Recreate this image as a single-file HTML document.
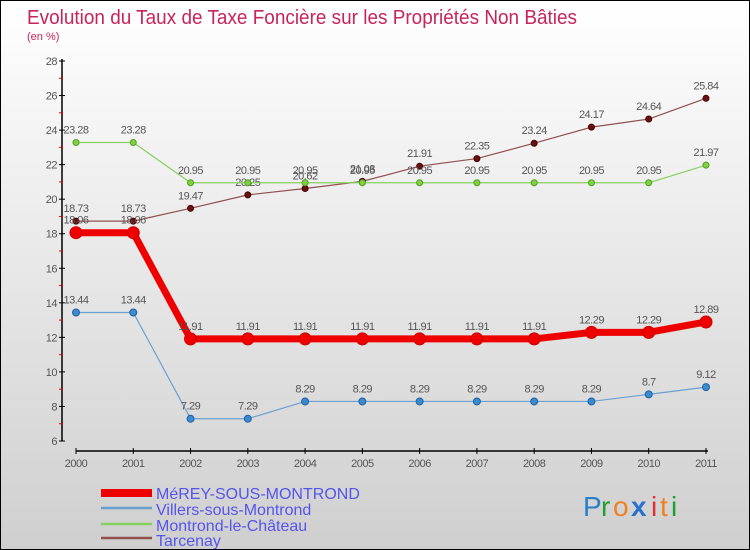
<!DOCTYPE html>
<html><head><meta charset="utf-8"><style>
body{margin:0}
#c{width:750px;height:550px;position:relative;box-sizing:border-box;border:1px solid #000;background:linear-gradient(#fff,#cfcfcf);overflow:hidden;font-family:"Liberation Sans",sans-serif}
</style></head><body>
<div id="c">
<svg width="748" height="548" id="s">
<text x="26" y="23" font-size="20" fill="#c8245c" textLength="550" lengthAdjust="spacingAndGlyphs">Evolution du Taux de Taxe Foncière sur les Propriétés Non Bâties</text>
<text x="26" y="39" font-size="11" fill="#c8245c">(en %)</text>
<g id="g"></g>
<g>
<rect x="100" y="488" width="51" height="8" fill="#e00"/>
<text x="155" y="498" font-size="16" fill="#5555ee">MéREY-SOUS-MONTROND</text>
<line x1="100" y1="507" x2="151" y2="507" stroke="#6aa0d0" stroke-width="2.5"/>
<text x="155" y="514" font-size="16" fill="#5555ee">Villers-sous-Montrond</text>
<line x1="100" y1="523" x2="151" y2="523" stroke="#88d060" stroke-width="2.5"/>
<text x="155" y="530" font-size="16" fill="#5555ee">Montrond-le-Château</text>
<line x1="100" y1="537" x2="151" y2="537" stroke="#905050" stroke-width="2.5"/>
<text x="155" y="545" font-size="16" fill="#5555ee">Tarcenay</text>
</g>
<g font-size="28">
<text x="582" y="515" fill="#2a80c8">P</text><text x="600" y="515" fill="#20a030">r</text><text x="612" y="515" fill="#f08020">o</text><text x="630" y="515" fill="#2a70d0" font-weight="bold">x</text><text x="650" y="515" fill="#e03030">i</text><text x="659" y="515" fill="#f08020">t</text><text x="670" y="515" fill="#20a030">i</text>
</g>
</svg>
</div>
<script>
const years=[2000,2001,2002,2003,2004,2005,2006,2007,2008,2009,2010,2011];
const merey=[18.06,18.06,11.91,11.91,11.91,11.91,11.91,11.91,11.91,12.29,12.29,12.89];
const villers=[13.44,13.44,7.29,7.29,8.29,8.29,8.29,8.29,8.29,8.29,8.7,9.12];
const montrond=[23.28,23.28,20.95,20.95,20.95,20.95,20.95,20.95,20.95,20.95,20.95,21.97];
const tarcenay=[18.73,18.73,19.47,20.25,20.62,21.03,21.91,22.35,23.24,24.17,24.64,25.84];
const yTicks=[6,8,10,12,14,16,18,20,22,24,26,28];
const NS="http://www.w3.org/2000/svg";
const g=document.getElementById('g');
const X=i=>75+i*(705-75)/(years.length-1);
const Y=v=>440-(v-6)*(380/22);
function el(t,a,p){const e=document.createElementNS(NS,t);for(const k in a)e.setAttribute(k,a[k]);(p||g).appendChild(e);return e;}
let ax=el('line',{x1:61,y1:58,x2:61,y2:440,stroke:'#000','stroke-width':1.5});


yTicks.forEach(v=>{
 el('line',{x1:58,y1:Y(v),x2:64,y2:Y(v),stroke:'#000'});
 if(v<28)el('line',{x1:58,y1:Y(v+1),x2:62,y2:Y(v+1),stroke:'#e00'});
 let t=el('text',{x:56,y:Y(v)+4,'text-anchor':'end','font-size':11,fill:'#555','letter-spacing':-0.5});
 
 
 t.textContent=v;
});
let xa=el('line',{x1:75,y1:450,x2:707,y2:450,stroke:'#000','stroke-width':1.5});


years.forEach((y,i)=>{
 el('line',{x1:X(i),y1:447,x2:X(i),y2:453,stroke:'#000'});
 let t=el('text',{x:X(i),y:466,'text-anchor':'middle','font-size':11,fill:'#555','letter-spacing':-0.5});
 
 
 t.textContent=y;
});
function series(vals,color,lw,r,fill,stroke,name){
 const sg=el('g',{});
 
 
 el('polyline',{points:vals.map((v,i)=>X(i)+','+Y(v)).join(' '),fill:'none',stroke:color,'stroke-width':lw,'stroke-linejoin':'round'},sg);
 vals.forEach((v,i)=>{
  let c=el('circle',{cx:X(i),cy:Y(v),r:r,fill:fill,stroke:stroke,'stroke-width':1},sg);
  
  
  let t=el('text',{x:X(i),y:Y(v)-9,'text-anchor':'middle','font-size':11,fill:'#555','letter-spacing':-0.5},sg);
  t.textContent=v;
 });
}
series(tarcenay,'#905050',1.2,3,'#6a1010','#4a0000','series-tarcenay');
series(montrond,'#88d060',1.2,3,'#80d040','#50a020','series-montrond');
series(villers,'#6aa0d0',1.2,3.5,'#3a8ad0','#2060a0','series-villers');
series(merey,'#ee0000',7,6,'#ee0000','#cc0000','series-merey');
</script>
</body></html>
